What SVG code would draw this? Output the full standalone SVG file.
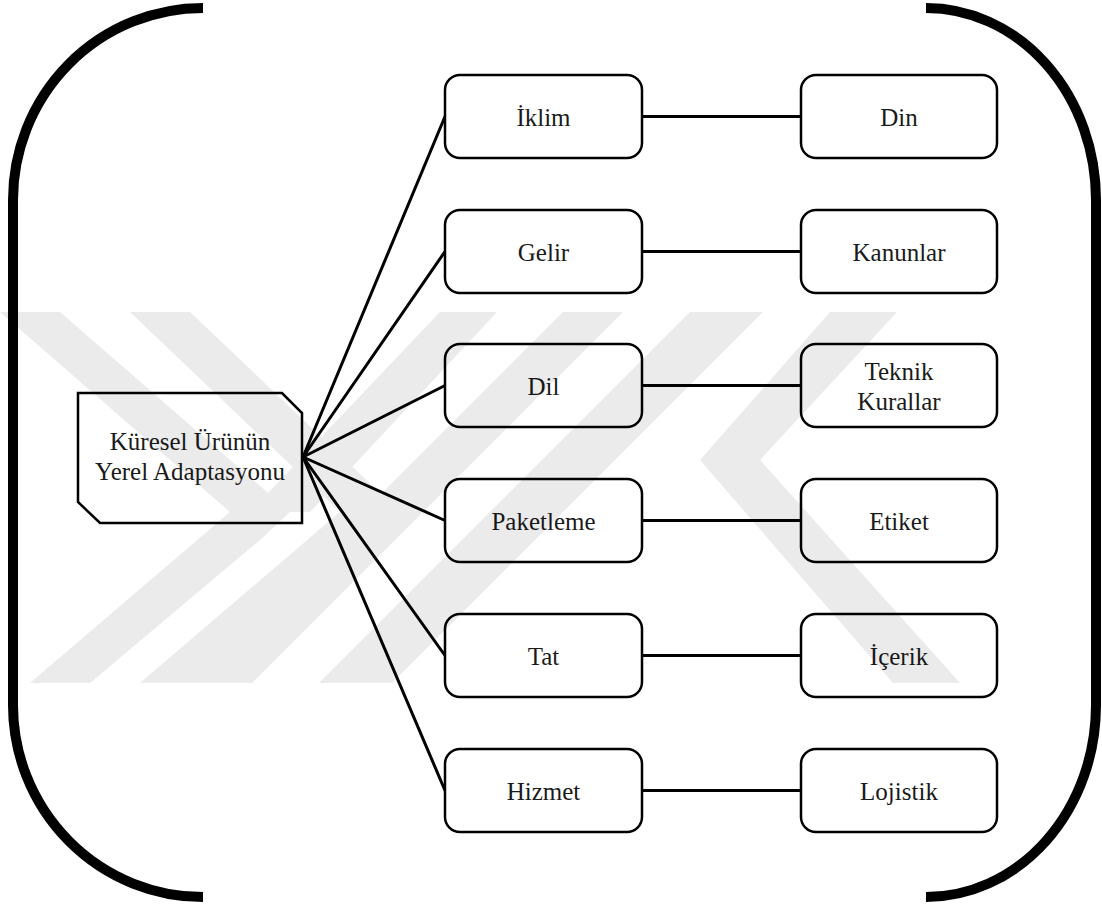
<svg xmlns="http://www.w3.org/2000/svg" width="1102" height="905" viewBox="0 0 1102 905">
  <defs>
    <style>
      .box { fill: #ffffff; stroke: #000000; stroke-width: 2.5; }
      .lbl { font-family: 'Liberation Serif', 'DejaVu Serif', serif; font-size: 25px; fill: #1a1a1a; text-anchor: middle; }
      .link { stroke: #000000; stroke-width: 3; fill: none; stroke-linecap: round; }
      .brace { stroke: #000000; stroke-width: 10; fill: none; }
      .mark { fill: #000000; }
    </style>
  </defs>

  <rect width="1102" height="905" fill="#ffffff"/>

  <!-- enclosing brackets -->
  <g id="brackets">
    <path class="brace" d="M203,8 A190,192 0 0 0 13,200 L13,705 A190,192 0 0 0 203,897"/>
    <path class="brace" d="M926,8 A170,192 0 0 1 1096,200 L1096,705 A170,192 0 0 1 926,897"/>
  </g>

  <g id="connectors">
    <line class="link" x1="303" y1="457" x2="445" y2="116.5"/>
    <line class="link" x1="303" y1="457" x2="445" y2="251.5"/>
    <line class="link" x1="303" y1="457" x2="445" y2="385.5"/>
    <line class="link" x1="303" y1="457" x2="445" y2="520.5"/>
    <line class="link" x1="303" y1="457" x2="445" y2="655.5"/>
    <line class="link" x1="303" y1="457" x2="445" y2="790.5"/>
    <line class="link" x1="642" y1="116.5" x2="801" y2="116.5"/>
    <line class="link" x1="642" y1="251.5" x2="801" y2="251.5"/>
    <line class="link" x1="642" y1="385.5" x2="801" y2="385.5"/>
    <line class="link" x1="642" y1="520.5" x2="801" y2="520.5"/>
    <line class="link" x1="642" y1="655.5" x2="801" y2="655.5"/>
    <line class="link" x1="642" y1="790.5" x2="801" y2="790.5"/>
  </g>

  <g id="hub">
    <polygon class="box" points="78,393 282,393 302,413 302,523 100,523 78,502"/>
    <text class="lbl" x="190" y="450">Küresel Ürünün</text>
    <text class="lbl" x="190" y="480">Yerel Adaptasyonu</text>
  </g>

  <g id="iklim">
    <rect class="box" x="445" y="75" width="197" height="83" rx="15"/>
    <text class="lbl" x="543.5" y="125.5">İklim</text>
  </g>
  <g id="gelir">
    <rect class="box" x="445" y="210" width="197" height="83" rx="15"/>
    <text class="lbl" x="543.5" y="260.5">Gelir</text>
  </g>
  <g id="dil">
    <rect class="box" x="445" y="344" width="197" height="83" rx="15"/>
    <text class="lbl" x="543.5" y="394.5">Dil</text>
  </g>
  <g id="paketleme">
    <rect class="box" x="445" y="479" width="197" height="83" rx="15"/>
    <text class="lbl" x="543.5" y="529.5">Paketleme</text>
  </g>
  <g id="tat">
    <rect class="box" x="445" y="614" width="197" height="83" rx="15"/>
    <text class="lbl" x="543.5" y="664.5">Tat</text>
  </g>
  <g id="hizmet">
    <rect class="box" x="445" y="749" width="197" height="83" rx="15"/>
    <text class="lbl" x="543.5" y="799.5">Hizmet</text>
  </g>

  <g id="din">
    <rect class="box" x="801" y="75" width="196" height="83" rx="15"/>
    <text class="lbl" x="899" y="125.5">Din</text>
  </g>
  <g id="kanunlar">
    <rect class="box" x="801" y="210" width="196" height="83" rx="15"/>
    <text class="lbl" x="899" y="260.5">Kanunlar</text>
  </g>
  <g id="teknik-kurallar">
    <rect class="box" x="801" y="344" width="196" height="83" rx="15"/>
    <text class="lbl" x="899" y="379.5">Teknik</text>
    <text class="lbl" x="899" y="409.5">Kurallar</text>
  </g>
  <g id="etiket">
    <rect class="box" x="801" y="479" width="196" height="83" rx="15"/>
    <text class="lbl" x="899" y="529.5">Etiket</text>
  </g>
  <g id="icerik">
    <rect class="box" x="801" y="614" width="196" height="83" rx="15"/>
    <text class="lbl" x="899" y="664.5">İçerik</text>
  </g>
  <g id="lojistik">
    <rect class="box" x="801" y="749" width="196" height="83" rx="15"/>
    <text class="lbl" x="899" y="799.5">Lojistik</text>
  </g>

  <!-- faint emblem laid over the page; group opacity keeps overlaps even -->
  <g id="watermark" opacity="0.075">
    <polygon class="mark" points="0,312 60,312 290,512 260,540 90,683 30,683 230,512"/>
    <polygon class="mark" points="130,312 190,312 400,512 200,683 140,683 340,512"/>
    <polygon class="mark" points="440,312 497,312 310,512 250,512"/>
    <polygon class="mark" points="563,312 623,312 252,683 192,683"/>
    <polygon class="mark" points="690,312 763,312 392,683 319,683"/>
    <polygon class="mark" points="830,312 897,312 760,460 700,460"/>
    <polygon class="mark" points="700,460 760,460 960,683 893,683"/>
  </g>
</svg>
